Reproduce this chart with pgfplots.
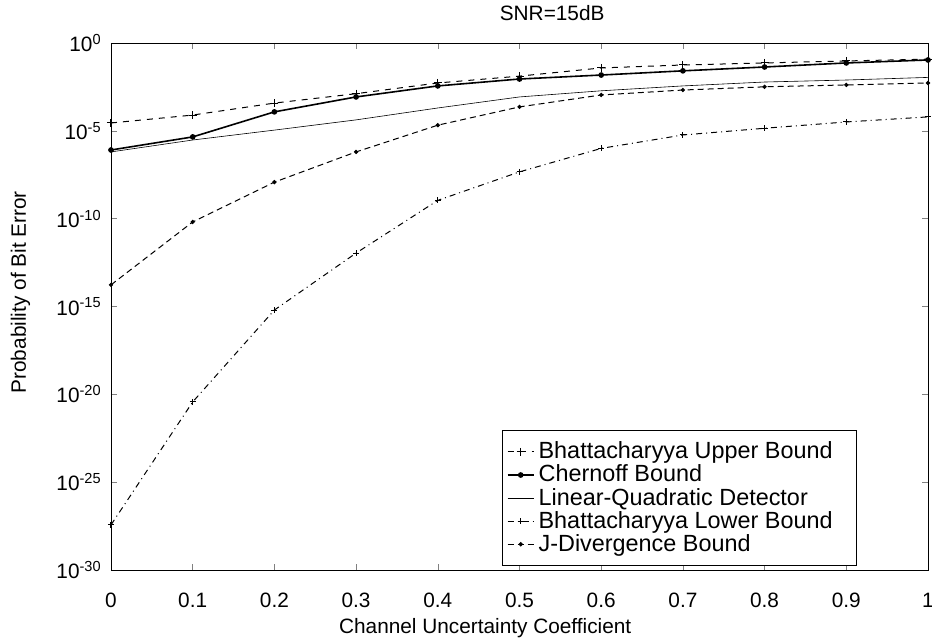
\documentclass[border=0pt]{standalone}
\usepackage{fontspec}
\setmainfont{Liberation Sans}
\usepackage{pgfplots}
\pgfplotsset{compat=1.18}
\begin{document}
\fontsize{10.4}{12.5}\selectfont
\begin{tikzpicture}
\begin{axis}[
  scale only axis, width=408.5pt, height=263.5pt,
  xmin=0, xmax=1, ymode=log, ymin=1e-30, ymax=1,
  xtick={0,0.1,0.2,0.3,0.4,0.5,0.6,0.7,0.8,0.9,1},
  xticklabels={0,0.1,0.2,0.3,0.4,0.5,0.6,0.7,0.8,0.9,1},
  ytick={1e-30,1e-25,1e-20,1e-15,1e-10,1e-5,1},
  yticklabels={10\textsuperscript{-30},10\textsuperscript{-25},10\textsuperscript{-20},10\textsuperscript{-15},10\textsuperscript{-10},10\textsuperscript{-5},10\textsuperscript{0}},
  yminorticks=false,
  tick align=inside, major tick length=3pt,
  ticklabel style={font=\fontsize{10.4}{12.5}\selectfont},
  xticklabel style={yshift=-8pt},
  yticklabel style={xshift=-1pt},
  title={SNR=15dB},
  title style={font=\fontsize{10.4}{12.5}\selectfont, at={(0.54,1)}, yshift=1.5pt},
  xlabel={Channel Uncertainty Coefficient},
  ylabel={Probability of Bit Error},
  label style={font=\fontsize{10.4}{12.5}\selectfont},
  xlabel style={at={(ticklabel cs:0.458)}, anchor=near ticklabel, yshift=2pt},
  ylabel style={at={(ticklabel cs:0.527)}, anchor=near ticklabel, yshift=6pt},
  legend style={at={(0.479,0.008)}, anchor=south west, draw=black, line width=0.5pt, font=\fontsize{11.7}{12.5}\selectfont, row sep=-2.5pt, inner xsep=2pt, inner ysep=3.5pt},
  legend cell align=left,
  legend image code/.code={\draw[mark repeat=2,mark phase=2] plot coordinates {(0cm,0cm) (0.23cm,0cm) (0.46cm,0cm)};},
  every axis plot/.append style={black, line width=0.5pt},
]
\coordinate (ll) at (rel axis cs:0,0);
\coordinate (ur) at (rel axis cs:1,1);
\addplot[dashed, mark=+, mark size=2pt, mark options={solid}] coordinates {
(0,2.8e-5) (0.1,7.9e-5) (0.2,3.8e-4) (0.3,1.3e-3) (0.4,5.3e-3) (0.5,1.3e-2) (0.6,3.8e-2) (0.7,5.6e-2) (0.8,7.3e-2) (0.9,9.5e-2) (1,0.12)};
\addlegendentry{Bhattacharyya Upper Bound\rule{8pt}{0pt}}
\addplot[solid, line width=0.8pt, mark=*, mark size=1pt] coordinates {
(0,8.1e-7) (0.1,4.5e-6) (0.2,1.2e-4) (0.3,8.5e-4) (0.4,3.6e-3) (0.5,8.9e-3) (0.6,1.5e-2) (0.7,2.6e-2) (0.8,4.3e-2) (0.9,7.3e-2) (1,0.108)};
\addlegendentry{Chernoff Bound}
\addplot[solid, line width=0.3pt] coordinates {
(0,6.3e-7) (0.1,3.0e-6) (0.2,1.1e-5) (0.3,4.2e-5) (0.4,2.0e-4) (0.5,8.5e-4) (0.6,1.9e-3) (0.7,3.6e-3) (0.8,6.0e-3) (0.9,7.8e-3) (1,1.1e-2)};
\addlegendentry{Linear-Quadratic Detector}
\addplot[dash dot, mark=+, mark size=1.5pt, mark options={solid}] coordinates {
(0,3.7e-28) (0.1,3.7e-21) (0.2,6.3e-16) (0.3,1.1e-12) (0.4,1.1e-9) (0.5,4.6e-8) (0.6,1.0e-6) (0.7,5.8e-6) (0.8,1.4e-5) (0.9,3.2e-5) (1,6.2e-5)};
\addlegendentry{Bhattacharyya Lower Bound}
\addplot[densely dashed, mark=*, mark size=0.8pt, mark options={solid}] coordinates {
(0,1.7e-14) (0.1,6.5e-11) (0.2,1.2e-8) (0.3,6.3e-7) (0.4,2.1e-5) (0.5,2.3e-4) (0.6,1.1e-3) (0.7,2.1e-3) (0.8,3.2e-3) (0.9,4.1e-3) (1,5.3e-3)};
\addlegendentry{J-Divergence Bound}
\end{axis}
\pgfresetboundingbox
\path ([xshift=-55.5pt,yshift=-36.5pt]ll) rectangle ([xshift=2pt,yshift=21.5pt]ur);
\end{tikzpicture}
\end{document}
